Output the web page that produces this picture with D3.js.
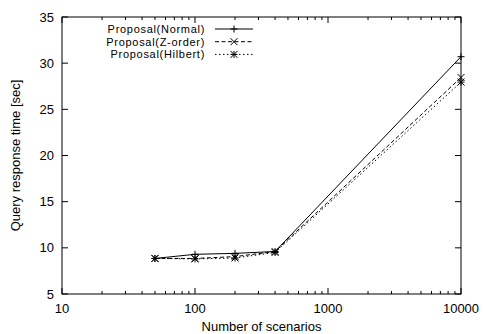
<!DOCTYPE html>
<html>
<head>
<meta charset="utf-8">
<script src="https://cdn.jsdelivr.net/npm/d3@7"></script>
<style>
  body { margin: 0; background: #fff; }
  svg { display: block; font-family: "Liberation Sans", Arial, sans-serif; }
  text { fill: #000; }
</style>
</head>
<body>
<svg width="483" height="334"></svg>
<script>
// data
const scenarios = [50, 100, 200, 400, 10000];
const normal = [8.85, 9.3, 9.4, 9.6, 30.7];
const zorder = [8.85, 8.85, 9.05, 9.6, 28.45];
const hilbert = [8.85, 8.8, 8.9, 9.5, 27.95];
const seriesNames = ['Proposal(Normal)', 'Proposal(Z-order)', 'Proposal(Hilbert)'];
const yTicks = [5, 10, 15, 20, 25, 30, 35];
const xTicks = [10, 100, 1000, 10000];

const svg = d3.select('svg');
const m = {left: 62, right: 461, top: 17, bottom: 294};
const fs = 13;

const x = d3.scaleLog().domain([10, 10000]).range([m.left, m.right]);
const y = d3.scaleLinear().domain([5, 35]).range([m.bottom, m.top]);

const series = [
  {name: seriesNames[0], vals: normal, dash: null, mark: 'plus'},
  {name: seriesNames[1], vals: zorder, dash: '4,2.5', mark: 'cross'},
  {name: seriesNames[2], vals: hilbert, dash: '1.5,2.5', mark: 'star'}
];

const g = svg.append('g');

// ticks - gnuplot style, inward on all four sides
const minor = [];
for (let d = 10; d < 10000; d *= 10) for (let k = 2; k <= 9; k++) minor.push(d * k);

g.selectAll('.xmaj').data(xTicks).join('g').each(function(v) {
  const s = d3.select(this);
  s.append('line').attr('x1', x(v)).attr('x2', x(v)).attr('y1', m.bottom).attr('y2', m.bottom - 6).attr('stroke', '#000');
  s.append('line').attr('x1', x(v)).attr('x2', x(v)).attr('y1', m.top).attr('y2', m.top + 6).attr('stroke', '#000');
  s.append('text').attr('x', x(v)).attr('y', m.bottom + 19).attr('text-anchor', 'middle').attr('font-size', fs).text(v);
});
g.selectAll('.xmin').data(minor).join('g').each(function(v) {
  const s = d3.select(this);
  s.append('line').attr('x1', x(v)).attr('x2', x(v)).attr('y1', m.bottom).attr('y2', m.bottom - 3).attr('stroke', '#000');
  s.append('line').attr('x1', x(v)).attr('x2', x(v)).attr('y1', m.top).attr('y2', m.top + 3).attr('stroke', '#000');
});
g.selectAll('.ymaj').data(yTicks).join('g').each(function(v) {
  const s = d3.select(this);
  s.append('line').attr('x1', m.left).attr('x2', m.left + 6).attr('y1', y(v)).attr('y2', y(v)).attr('stroke', '#000');
  s.append('line').attr('x1', m.right).attr('x2', m.right - 6).attr('y1', y(v)).attr('y2', y(v)).attr('stroke', '#000');
  s.append('text').attr('x', m.left - 8).attr('y', y(v)).attr('dy', '0.35em').attr('text-anchor', 'end').attr('font-size', fs).text(v);
});

// frame
g.append('rect').attr('x', m.left).attr('y', m.top).attr('width', m.right - m.left).attr('height', m.bottom - m.top)
  .attr('fill', 'none').attr('stroke', '#000');

// axis titles
svg.append('text').attr('x', (m.left + m.right) / 2).attr('y', 331).attr('text-anchor', 'middle').attr('font-size', fs).text('Number of scenarios');
svg.append('text').attr('transform', `translate(20,${(m.top + m.bottom) / 2}) rotate(-90)`).attr('text-anchor', 'middle').attr('font-size', fs).text('Query response time [sec]');

function marker(sel, type, cx, cy) {
  const r = 3.5;
  const p = d3.path();
  if (type === 'plus' || type === 'star') { p.moveTo(cx - r, cy); p.lineTo(cx + r, cy); p.moveTo(cx, cy - r); p.lineTo(cx, cy + r); }
  if (type === 'cross' || type === 'star') { p.moveTo(cx - r, cy - r); p.lineTo(cx + r, cy + r); p.moveTo(cx - r, cy + r); p.lineTo(cx + r, cy - r); }
  sel.append('path').attr('d', p.toString()).attr('stroke', '#000').attr('fill', 'none');
}

const line = d3.line().x(d => x(d[0])).y(d => y(d[1]));

series.forEach(s => {
  const pts = scenarios.map((v, i) => [v, s.vals[i]]);
  g.append('path').datum(pts).attr('d', line).attr('fill', 'none').attr('stroke', '#000')
    .attr('stroke-width', 1).attr('stroke-dasharray', s.dash);
  pts.forEach(p => marker(g, s.mark, x(p[0]), y(p[1])));
});

// legend - rows kept apart so the text boxes do not touch
const leg = svg.append('g');
series.forEach((s, i) => {
  const ly = 29 + i * 12.7;
  leg.append('text').attr('x', 205).attr('y', ly).attr('dy', '0.35em').attr('text-anchor', 'end')
    .attr('font-size', 11).attr('letter-spacing', 0.7).text(s.name);
  leg.append('line').attr('x1', 215).attr('x2', 253).attr('y1', ly).attr('y2', ly).attr('stroke', '#000').attr('stroke-dasharray', s.dash);
  marker(leg, s.mark, 234, ly);
});
</script>
</body>
</html>
